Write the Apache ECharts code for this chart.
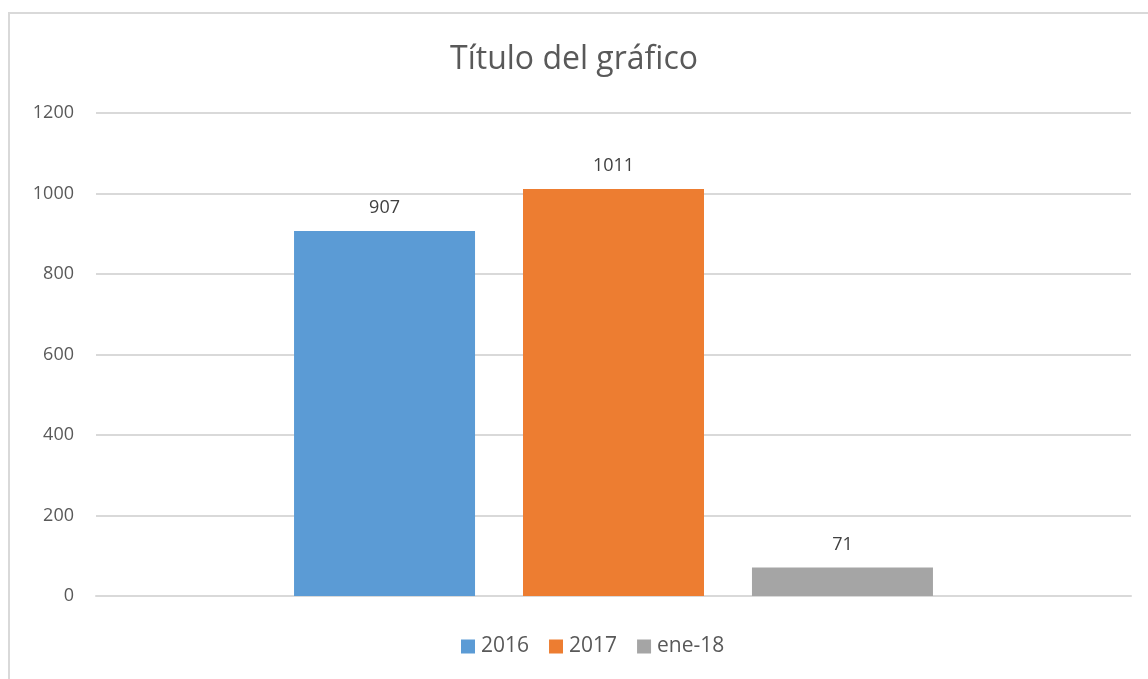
<!DOCTYPE html>
<html>
<head>
<meta charset="utf-8">
<script src="https://cdn.jsdelivr.net/npm/echarts@6/dist/echarts.min.js"></script>
<style>
  html, body { margin: 0; padding: 0; background: #fff; }
  #chart { width: 1148px; height: 679px; }
</style>
</head>
<body>
<div id="chart"></div>
<script>
// 数据
const categories = ['']
const seriesNames = ['2016', '2017', 'ene-18']
const seriesValues = [[907], [1011], [71]]
const seriesColors = ['#5b9bd5', '#ed7d31', '#a5a5a5']
const yTicks = [0, 200, 400, 600, 800, 1000, 1200]

const chart = echarts.init(document.getElementById('chart'))
const font = '"Open Sans", "Noto Sans", sans-serif'

chart.setOption({
  animation: false,
  textStyle: { fontFamily: font },
  title: {
    text: 'Título del gráfico',
    left: 'center',
    top: 39,
    textStyle: { fontSize: 32, fontWeight: 'normal', color: '#595959', fontFamily: font }
  },
  // 外框
  graphic: [{
    type: 'rect',
    shape: { x: 9, y: 13, width: 1200, height: 700 },
    style: { fill: 'none', stroke: '#d9d9d9', lineWidth: 2 },
    silent: true
  }],
  legend: {
    bottom: 17,
    left: 456,
    itemWidth: 14,
    itemHeight: 14,
    itemGap: 20,
    icon: 'rect',
    textStyle: { fontSize: 21, color: '#595959', fontFamily: font, padding: [0, 0, 0, 1] },
    data: seriesNames
  },
  grid: { left: 96, right: 17, top: 113, bottom: 83 },
  xAxis: {
    type: 'category',
    data: categories,
    axisLine: { show: true, lineStyle: { color: '#d9d9d9', width: 2 } },
    axisTick: { show: false },
    axisLabel: { show: false }
  },
  yAxis: {
    type: 'value',
    min: yTicks[0],
    max: yTicks[yTicks.length - 1],
    interval: 200,
    axisLine: { show: false },
    axisTick: { show: false },
    axisLabel: {
      fontSize: 18,
      color: '#595959',
      margin: 22,
      fontFamily: font,
      formatter: (v) => String(v)
    },
    splitLine: { lineStyle: { color: '#d9d9d9', width: 2 } }
  },
  series: seriesNames.map((name, i) => ({
    name: name,
    type: 'bar',
    data: seriesValues[i],
    barWidth: 181,
    barGap: '26.5%',
    itemStyle: { color: seriesColors[i] },
    label: {
      show: true,
      position: 'top',
      distance: 14,
      fontSize: 18,
      color: '#404040',
      fontFamily: font
    }
  }))
})
</script>
</body>
</html>
